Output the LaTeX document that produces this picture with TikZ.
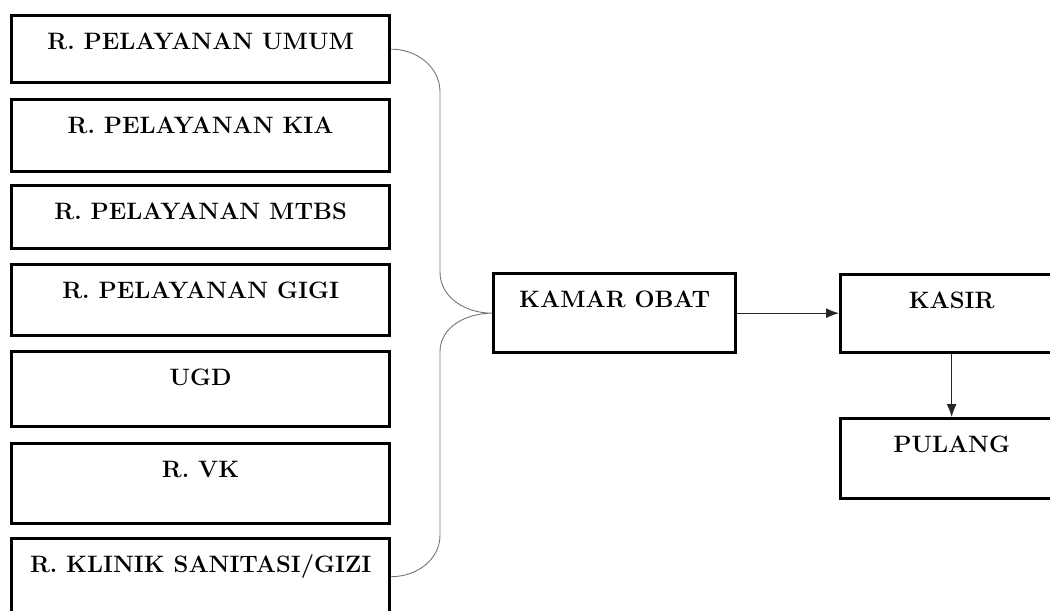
\documentclass[tikz,border=0pt]{standalone}
\usetikzlibrary{arrows.meta}

\tikzset{
  room/.style={draw, line width=1.9pt, anchor=north west, inner sep=0pt,
    text height=0.68cm, font=\fontsize{13.5}{15}\selectfont\bfseries},
  flow/.style={-{Latex[length=0.26cm,width=0.2cm]}, line width=0.6pt, black!85},
  brace/.style={line width=0.5pt, black!55},
}

\begin{document}
\begin{tikzpicture}[x=0.02cm,y=-0.02cm]
\useasboundingbox (0,0) rectangle (1050,610);
\clip (0,0) rectangle (1050,610);
% ruang pelayanan
\node[room, minimum width=7.56cm, text depth=0.66cm] (umum) at (10,14) {R. PELAYANAN UMUM};
\node[room, minimum width=7.56cm, text depth=0.76cm] (kia) at (10,98) {R. PELAYANAN KIA};
\node[room, minimum width=7.56cm, text depth=0.58cm] (mtbs) at (10,184) {R. PELAYANAN MTBS};
\node[room, minimum width=7.56cm, text depth=0.74cm] (gigi) at (10,263) {R. PELAYANAN GIGI};
\node[room, minimum width=7.56cm, text depth=0.82cm] (ugd) at (10,350) {UGD};
\node[room, minimum width=7.56cm, text depth=0.92cm] (vk) at (10,442) {R. VK};
\node[room, minimum width=7.56cm, text depth=0.84cm] (klinik) at (10,537) {R. KLINIK SANITASI/GIZI};
% alur keluar
\node[room, minimum width=4.84cm, text depth=0.90cm] (kamar) at (492,272) {KAMAR OBAT};
\node[room, minimum width=4.44cm, text depth=0.88cm] (kasir) at (839,273) {KASIR};
\node[room, minimum width=4.44cm, text depth=0.92cm] (pulang) at (839,417) {PULANG};
\draw[brace] (umum.east) to[out=0,in=90] (440,92) -- (440,272)
  to[out=-90,in=180] (kamar.west) to[out=180,in=90] (440,352)
  -- (440,535) to[out=-90,in=0] (klinik.east);
\draw[flow] (kamar.east) -- (kamar.east -| kasir.west);
\draw[flow] (kasir) -- (pulang);
\end{tikzpicture}
\end{document}
